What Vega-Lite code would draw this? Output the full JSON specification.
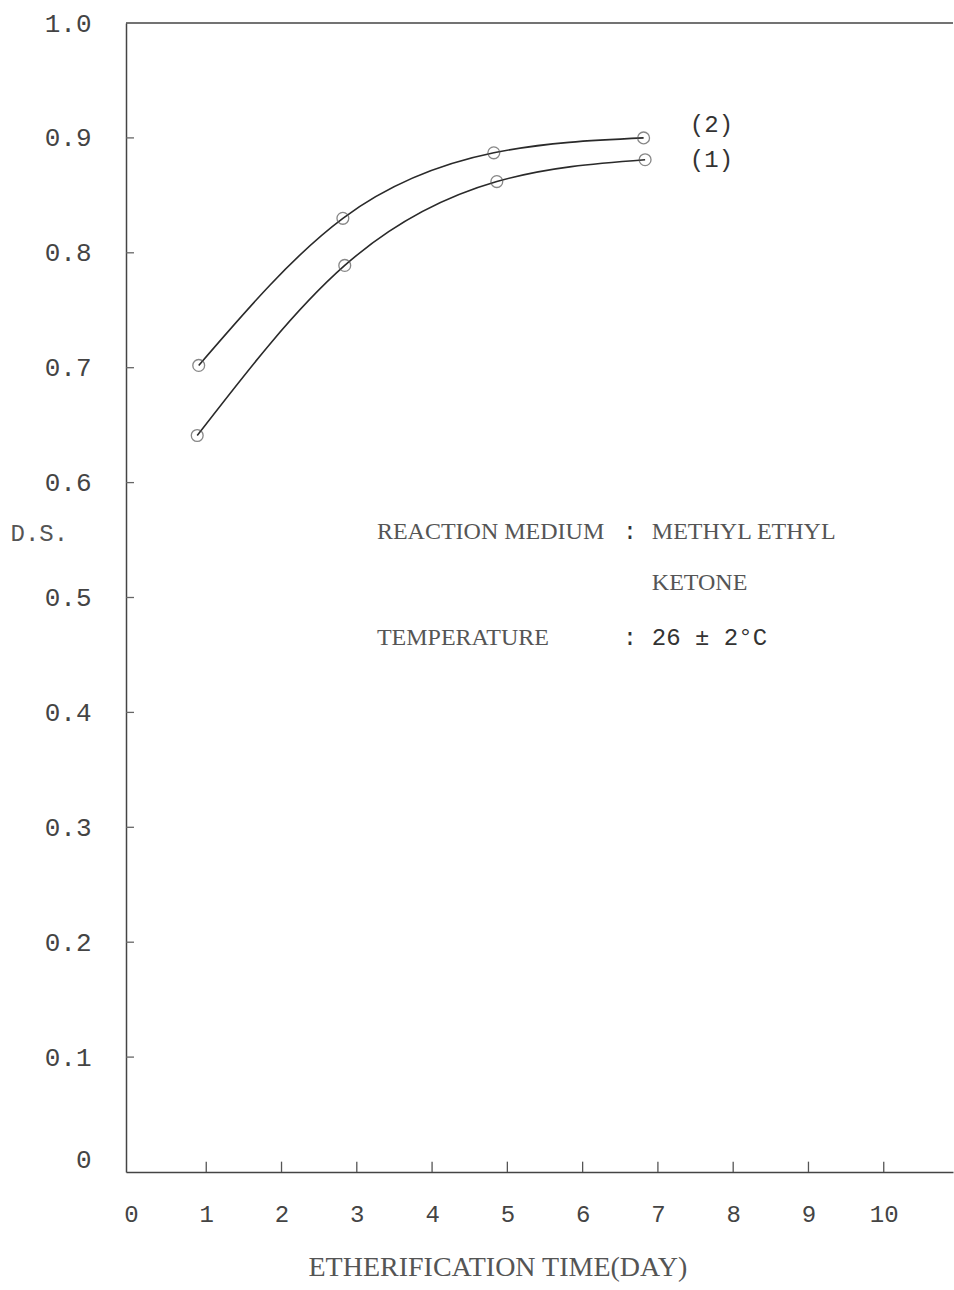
{
  "$schema": "https://vega.github.io/schema/vega-lite/v6.json",
  "width": 827,
  "height": 1149,
  "autosize": {"type": "none"},
  "padding": {"left": 126, "top": 23, "right": 1, "bottom": 118},
  "background": "white",
  "config": {"view": {"stroke": null}, "axis": {"grid": false}},
  "datasets": {
    "curves": [
      {"series": "(1)", "day": 0.88, "ds": 0.641},
      {"series": "(1)", "day": 2.84, "ds": 0.789},
      {"series": "(1)", "day": 4.86, "ds": 0.862},
      {"series": "(1)", "day": 6.83, "ds": 0.881},
      {"series": "(2)", "day": 0.9, "ds": 0.702},
      {"series": "(2)", "day": 2.815, "ds": 0.83},
      {"series": "(2)", "day": 4.82, "ds": 0.887},
      {"series": "(2)", "day": 6.81, "ds": 0.9}
    ],
    "serifNotes": [
      {"day": 3.267, "ds": 0.557, "label": "REACTION MEDIUM"},
      {"day": 6.919, "ds": 0.557, "label": "METHYL ETHYL"},
      {"day": 6.919, "ds": 0.5126, "label": "KETONE"},
      {"day": 3.267, "ds": 0.4648, "label": "TEMPERATURE"}
    ],
    "monoNotes": [
      {"day": 6.534, "ds": 0.557, "label": ":"},
      {"day": 6.534, "ds": 0.4648, "label": ":"},
      {"day": 6.919, "ds": 0.4648, "label": "26 ± 2°C"},
      {"day": 7.424, "ds": 0.911, "label": "(2)"},
      {"day": 7.424, "ds": 0.881, "label": "(1)"}
    ],
    "xticks": [{"day": 1}, {"day": 2}, {"day": 3}, {"day": 4}, {"day": 5}, {"day": 6}, {"day": 7}, {"day": 8}, {"day": 9}, {"day": 10}],
    "yticks": [{"ds": 0.1}, {"ds": 0.2}, {"ds": 0.3}, {"ds": 0.4}, {"ds": 0.5}, {"ds": 0.6}, {"ds": 0.7}, {"ds": 0.8}, {"ds": 0.9}]
  },
  "layer": [
    {
      "data": {"name": "curves"},
      "mark": {"type": "line", "interpolate": "natural", "color": "#2a2a2a", "strokeWidth": 1.6},
      "encoding": {
        "detail": {"field": "series"},
        "x": {
          "field": "day", "type": "quantitative",
          "scale": {"domain": [-0.066, 10.92], "nice": false, "zero": false},
          "axis": {
            "values": [0, 1, 2, 3, 4, 5, 6, 7, 8, 9, 10],
            "format": "d",
            "labelFont": "Liberation Mono", "labelFontSize": 24, "labelColor": "#444",
            "labelPadding": 30, "labelAngle": 0,
            "ticks": false,
            "domainColor": "#444", "domainWidth": 1.5,
            "title": "ETHERIFICATION TIME(DAY)",
            "titleFont": "Liberation Serif", "titleFontSize": 28, "titleFontWeight": "normal", "titleColor": "#555",
            "titleX": 182, "titleY": 95, "titleAlign": "left", "titleBaseline": "middle"
          }
        },
        "y": {
          "field": "ds", "type": "quantitative",
          "scale": {"domain": [0, 1], "nice": false, "zero": false},
          "axis": {
            "values": [0, 0.1, 0.2, 0.3, 0.4, 0.5, 0.6, 0.7, 0.8, 0.9, 1.0],
            "labelExpr": "datum.value == 0 ? '0' : format(datum.value, '.1f')",
            "labelFont": "Liberation Mono", "labelFontSize": 26, "labelColor": "#444",
            "labelPadding": 35,
            "labelBaseline": {"condition": {"test": "datum.value == 0", "value": "bottom"}, "value": "middle"},
            "ticks": false,
            "domainColor": "#444", "domainWidth": 1.5,
            "title": "D.S.",
            "titleFont": "Liberation Mono", "titleFontSize": 24, "titleFontWeight": "normal", "titleColor": "#555",
            "titleAngle": 0, "titleX": -116, "titleY": 510, "titleAlign": "left", "titleBaseline": "middle"
          }
        }
      }
    },
    {
      "data": {"values": [{"ds": 1}]},
      "mark": {"type": "rule", "color": "#444", "strokeWidth": 1.5},
      "encoding": {
        "y": {"field": "ds", "type": "quantitative"}
      }
    },
    {
      "data": {"name": "xticks"},
      "mark": {"type": "rule", "color": "#555", "strokeWidth": 1.3},
      "encoding": {
        "x": {"field": "day", "type": "quantitative"},
        "y": {"datum": 0},
        "y2": {"datum": 0.009}
      }
    },
    {
      "data": {"name": "yticks"},
      "mark": {"type": "rule", "color": "#666", "strokeWidth": 1.3},
      "encoding": {
        "y": {"field": "ds", "type": "quantitative"},
        "x": {"datum": -0.066},
        "x2": {"datum": 0.04}
      }
    },
    {
      "data": {"name": "curves"},
      "mark": {"type": "point", "shape": "circle", "filled": false, "size": 140, "color": "#555", "strokeWidth": 1.3},
      "encoding": {
        "x": {"field": "day", "type": "quantitative"},
        "y": {"field": "ds", "type": "quantitative"}
      }
    },
    {
      "data": {"name": "serifNotes"},
      "mark": {"type": "text", "font": "Liberation Serif", "fontSize": 24, "color": "#555", "align": "left", "baseline": "middle"},
      "encoding": {
        "x": {"field": "day", "type": "quantitative"},
        "y": {"field": "ds", "type": "quantitative"},
        "text": {"field": "label"}
      }
    },
    {
      "data": {"name": "monoNotes"},
      "mark": {"type": "text", "font": "Liberation Mono", "fontSize": 24, "color": "#333", "align": "left", "baseline": "middle"},
      "encoding": {
        "x": {"field": "day", "type": "quantitative"},
        "y": {"field": "ds", "type": "quantitative"},
        "text": {"field": "label"}
      }
    }
  ]
}
